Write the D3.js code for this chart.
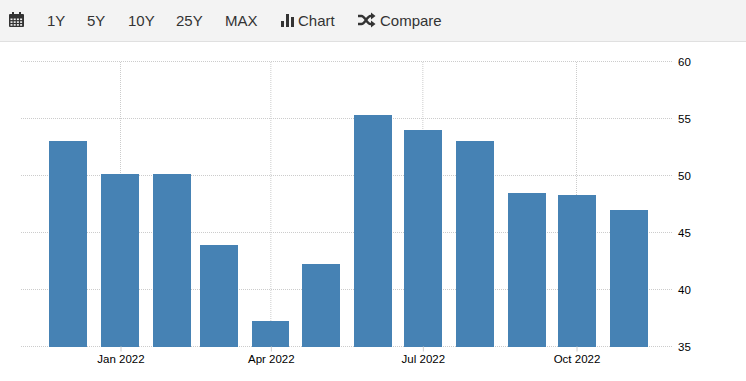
<!DOCTYPE html>
<html><head><meta charset="utf-8">
<script src="https://cdn.jsdelivr.net/npm/d3@7"></script>
<style>
html,body{margin:0;padding:0;background:#fff;overflow:hidden}
svg{display:block}
text{font-family:"Liberation Sans",Arial,sans-serif}
</style></head><body><div id="c"></div>
<script>
const months=["2021-12-01","2022-01-01","2022-02-01","2022-03-01","2022-04-01","2022-05-01","2022-06-01","2022-07-01","2022-08-01","2022-09-01","2022-10-01","2022-11-01"];
const values=[53,50.1,50.1,43.9,37.2,42.2,55.3,54,53,48.5,48.3,47];
const xTickDates=["2022-01-01","2022-04-01","2022-07-01","2022-10-01"];
const yTicks=[35,40,45,50,55,60];
const toolbarItems=[["1Y",47],["5Y",87],["10Y",128],["25Y",176],["MAX",225]];

const W=746,H=381;
const parse=d3.utcParse("%Y-%m-%d");
const svg=d3.select("#c").append("svg").attr("width",W).attr("height",H);
const x=d3.scaleUtc().domain([parse("2022-01-01"),parse("2022-10-01")]).range([120.5,576.5]);
const xBars=d3.scaleUtc().domain([parse("2021-12-01"),parse("2022-11-01")]).range([68,629]);
const y=d3.scaleLinear().domain([35,60]).range([346.5,61.5]);
const gridLeft=21,gridRight=672,barW=37.6;

// toolbar
svg.append("rect").attr("width",W).attr("height",41).attr("fill","#f3f3f3");
svg.append("rect").attr("y",41).attr("width",W).attr("height",1).attr("fill","#e0e0e0");
svg.selectAll("text.tb").data(toolbarItems).join("text").attr("class","tb")
  .attr("x",d=>d[1]).attr("y",26).attr("font-size",15).attr("fill","#333").text(d=>d[0]);
svg.append("text").attr("x",298).attr("y",26).attr("font-size",15).attr("fill","#333").text("Chart");
svg.append("text").attr("x",380).attr("y",26).attr("font-size",15).attr("fill","#333").text("Compare");
// calendar icon
const cal=svg.append("g").attr("fill","#333");
cal.append("rect").attr("x",9).attr("y",14).attr("width",15).attr("height",13).attr("rx",1);
cal.append("rect").attr("x",12).attr("y",12).attr("width",2).attr("height",3);
cal.append("rect").attr("x",19).attr("y",12).attr("width",2).attr("height",3);
for(let r=0;r<3;r++)for(let c=0;c<4;c++)
  cal.append("rect").attr("x",10.5+c*3.2).attr("y",18.5+r*2.8).attr("width",2).attr("height",1.6).attr("fill","#f3f3f3");
// bar icon
const bi=svg.append("g").attr("fill","#333");
[[281,21,3,6],[286,14,3,13],[291,17,3,10]].forEach(b=>bi.append("rect").attr("x",b[0]).attr("y",b[1]).attr("width",b[2]).attr("height",b[3]));
// shuffle icon
const sh=svg.append("g");
sh.append("path").attr("d","M358 16h3.5c3.5 0 5.5 8 9 8h2M358 24h3.5c3.5 0 5.5-8 9-8h2").attr("fill","none").attr("stroke","#333").attr("stroke-width",2.3);
sh.append("path").attr("d","M371 12.5l4.5 3.5-4.5 3.5zM371 20.5l4.5 3.5-4.5 3.5z").attr("fill","#333");

// grid
const grid=svg.append("g").attr("stroke","#cccccc").attr("stroke-width",1).attr("stroke-dasharray","1,1").attr("fill","none");
grid.selectAll("line.h").data(yTicks).join("line").attr("class","h")
  .attr("x1",gridLeft).attr("x2",gridRight).attr("y1",d=>y(d)).attr("y2",d=>y(d));
grid.selectAll("line.v").data(xTickDates).join("line").attr("class","v")
  .attr("x1",d=>x(parse(d))).attr("x2",d=>x(parse(d))).attr("y1",Math.round(y(60))).attr("y2",Math.round(y(35)));

// bars
svg.append("g").attr("shape-rendering","crispEdges").selectAll("rect").data(values).join("rect")
  .attr("x",(d,i)=>xBars(parse(months[i]))-barW/2).attr("width",barW)
  .attr("y",d=>y(d)).attr("height",d=>y(35)-y(d)).attr("fill","#4682b4");

// axes
const xAxis=d3.axisBottom(x).tickValues(xTickDates.map(parse)).tickFormat(d3.utcFormat("%b %Y")).tickSize(5).tickPadding(3);
const gx=svg.append("g").attr("transform","translate(0,346.5)").call(xAxis);
gx.select(".domain").remove();
gx.selectAll("line").attr("stroke","#cccccc");
gx.selectAll("text").attr("font-size",11.5).attr("fill","#000").attr("font-family",'"Liberation Sans",Arial,sans-serif');
const yAxis=d3.axisRight(y).tickValues(yTicks).tickSize(0).tickPadding(0);
const gy=svg.append("g").attr("transform","translate(678,0)").call(yAxis);
gy.select(".domain").remove();
gy.selectAll("text").attr("font-size",11.5).attr("fill","#000").attr("font-family",'"Liberation Sans",Arial,sans-serif');
</script></body></html>
